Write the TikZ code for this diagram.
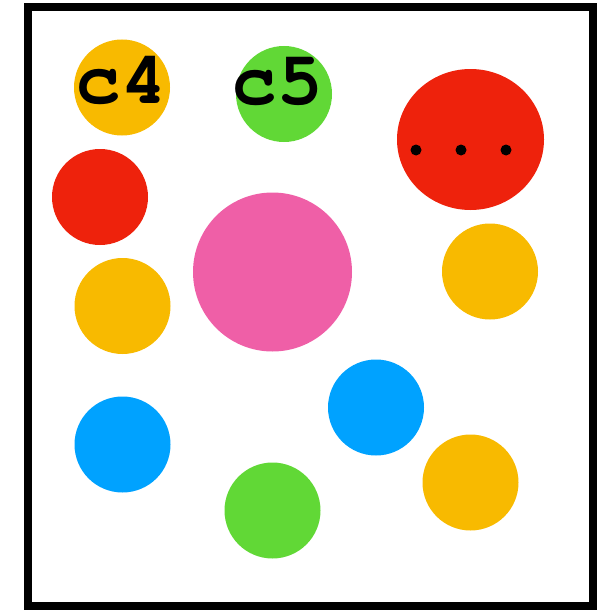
\documentclass[tikz,border=0pt]{standalone}
\usetikzlibrary{shapes.geometric}
\definecolor{ballyellow}{HTML}{F8BA00}
\definecolor{ballgreen}{HTML}{61D836}
\definecolor{ballred}{HTML}{EE220C}
\definecolor{ballpink}{HTML}{EF5FA7}
\definecolor{ballblue}{HTML}{00A2FF}
\begin{document}
\begin{tikzpicture}[x=1pt,y=-1pt,
      ball/.style={circle,inner sep=0pt,minimum size=96pt},
      lab/.style={font=\usefont{OT1}{pcr}{b}{n}\fontsize{76}{76}\selectfont,inner sep=0pt},
      dot/.style={circle,fill=black,inner sep=0pt,minimum size=11pt}]
      \useasboundingbox (0,0) rectangle (605,610);
      \draw[line width=8pt] (28,7) rectangle (593,606);
      % balls
      \node[ball,fill=ballyellow] (c4) at (122,87.5) {};
      \node[ball,fill=ballgreen] (c5) at (284,94) {};
      \node[ellipse,fill=ballred,inner sep=0pt,minimum width=147pt,minimum height=141pt] (more) at (470.5,139.5) {};
      \node[ball,fill=ballred] (redl) at (100,197) {};
      \node[circle,fill=ballpink,inner sep=0pt,minimum size=159pt] (big) at (272.5,272) {};
      \node[ball,fill=ballyellow] (yelr) at (490,271.5) {};
      \node[ball,fill=ballyellow] (yell) at (122.5,306) {};
      \node[ball,fill=ballblue] (bluer) at (376,407.5) {};
      \node[ball,fill=ballblue] (bluel) at (122.5,444.5) {};
      \node[ball,fill=ballyellow] (yelb) at (470.5,482.5) {};
      \node[ball,fill=ballgreen] (greenb) at (272.5,510.5) {};
      % labels
      \node[lab] (c4lab) at (121.5,80.5) {c4};
      \node[lab] (c5lab) at (277.5,81.5) {c5};
      \foreach \i/\x in {1/416,2/461,3/506}
        \node[dot] (dot\i) at (\x,150) {};
\end{tikzpicture}
\end{document}
